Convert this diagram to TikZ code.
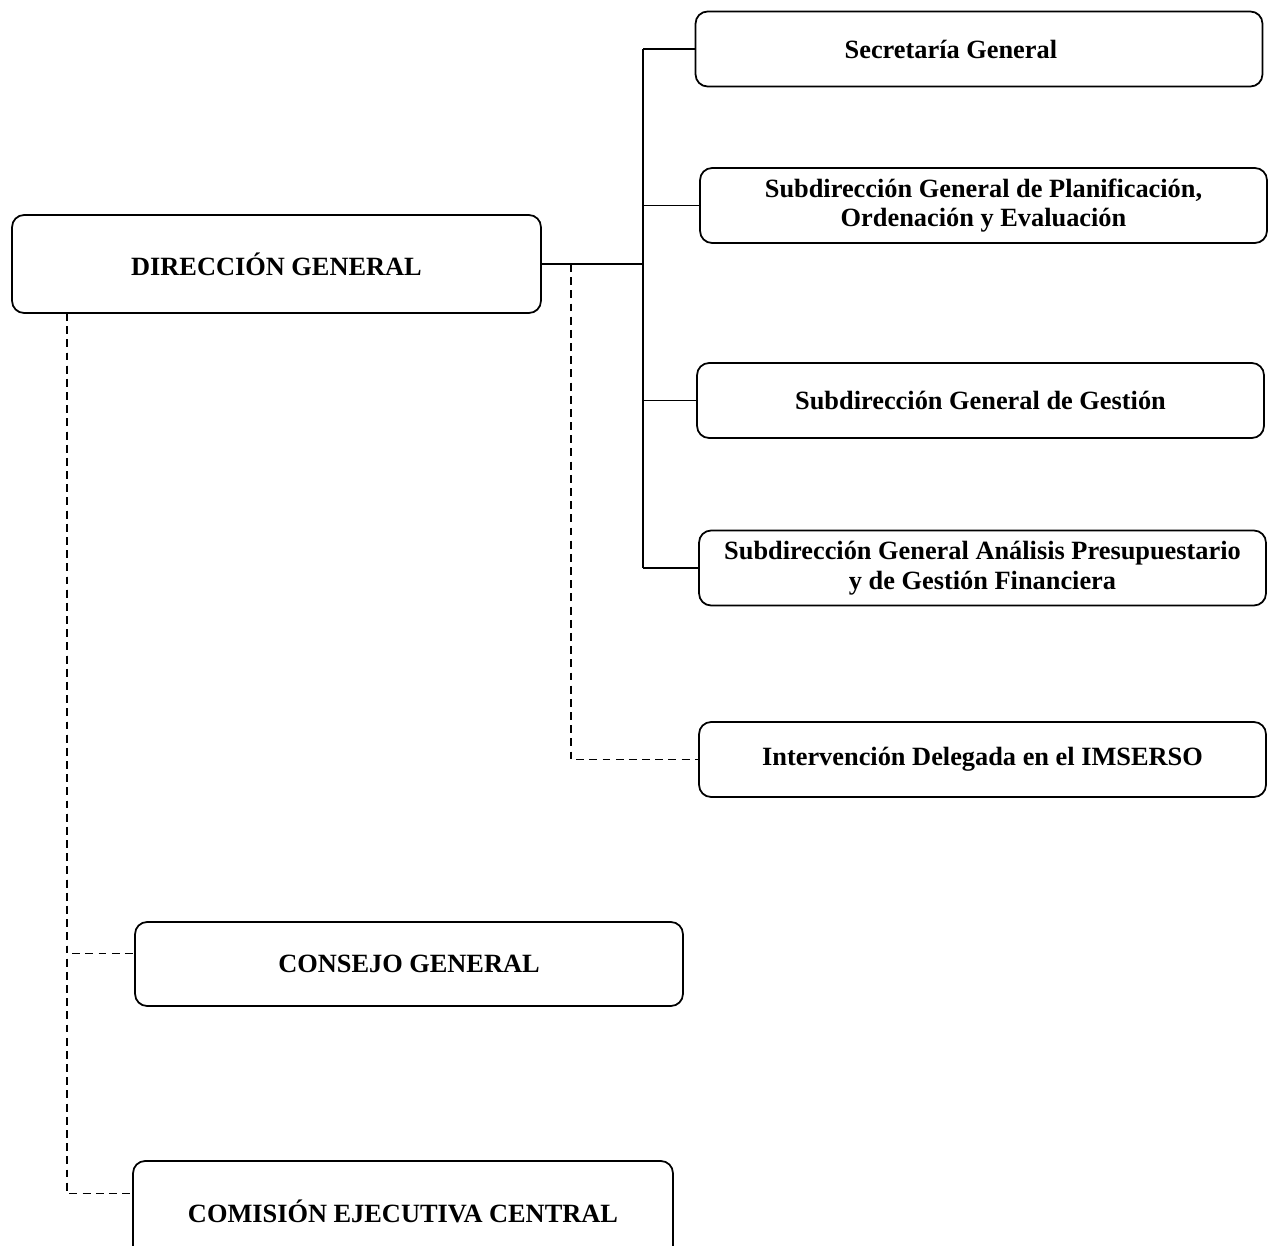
\documentclass[tikz,border=0pt]{standalone}
\usepackage{fontspec}
\setmainfont{Liberation Serif}
\usepackage{tikz}
\usetikzlibrary{shapes}
\tikzstyle{unit}=[draw=black, rounded corners=0.24cm, line width=1pt, inner sep=0pt, align=center, font=\bfseries\fontsize{15}{17}\selectfont]
\tikzstyle{dep}=[unit, minimum width=11.34cm, minimum height=1.5cm]
\tikzstyle{sl}=[line width=1pt]
\tikzstyle{dl}=[line width=1pt, dash pattern=on 4.5pt off 3pt]

\begin{document}
\begin{tikzpicture}[x=0.02cm, y=-0.02cm]
\useasboundingbox (0,0) rectangle (1268,1245);
%
  \node[unit, minimum width=10.58cm, minimum height=1.96cm] (dg) at (276.5,264) {DIRECCIÓN GENERAL};
  \node[dep] (sg) at (979,49) {Secretaría General\hspace*{32pt}};
  \node[dep] (sgp) at (983.5,205.5) {Subdirección General de Planificación,\\Ordenación y Evaluación};
  \node[dep] (sgg) at (980.5,400.5) {Subdirección General de Gestión};
  \node[dep] (sga) at (982.5,568) {Subdirección General Análisis Presupuestario\\y de Gestión Financiera};
  \node[dep] (ide) at (982.5,759.5) {Intervención Delegada en el IMSERSO};
  \node[unit, minimum width=10.96cm, minimum height=1.68cm] (cg) at (409,964) {CONSEJO GENERAL};
  \node[unit, minimum width=10.8cm, minimum height=2cm] (cec) at (403,1211) {COMISIÓN EJECUTIVA CENTRAL};
%
  \coordinate (jt) at (643,49);
  \coordinate (jb) at (643,568);
  \coordinate (dv) at (571,266);
  \coordinate (lv) at (67,313);
%
  \draw[sl] (dg.east) -- (dg.east -| jt);
  \draw[sl] (jt) -- (jb);
  \draw[sl] (jt) -- (sg.west);
  \draw[sl] (sgp.west -| jt) -- (sgp.west);
  \draw[sl] (sgg.west -| jt) -- (sgg.west);
  \draw[sl] (sga.west -| jt) -- (sga.west);
  \draw[dl] (dg.east -| dv) |- (ide.west);
  \draw[dl] (lv) |- ([yshift=6pt]cg.west);
  \draw[dl] (lv) |- ([yshift=10pt]cec.west);
%
\end{tikzpicture}
\end{document}
